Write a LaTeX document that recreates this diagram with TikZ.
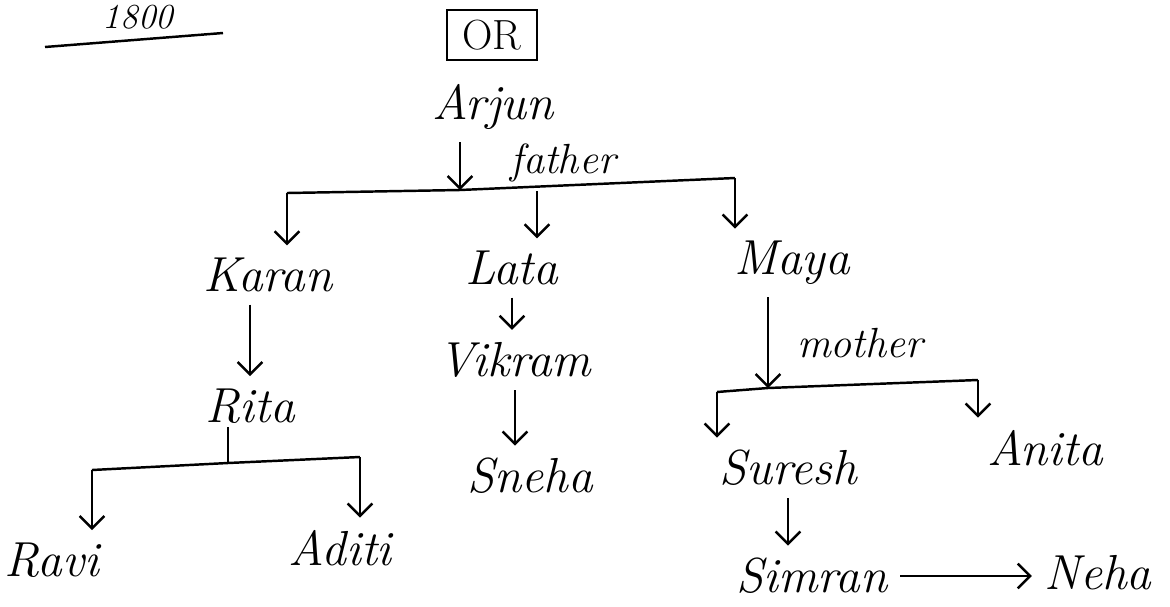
\documentclass[tikz,border=0pt]{standalone}
\usetikzlibrary{arrows.meta}

\tikzset{
  person/.style={font=\fontsize{28}{32}\selectfont\itshape, inner sep=2pt},
  relation/.style={font=\fontsize{24}{28}\selectfont\itshape, inner sep=2pt},
  link/.style={line width=1.4pt, -{Straight Barb[length=7pt,width=14pt]}, shorten <=5pt, shorten >=5pt},
  bar/.style={line width=1.4pt}
}

\begin{document}
\begin{tikzpicture}[x=0.02cm,y=-0.02cm]
\useasboundingbox (0,0) rectangle (1170,606);

% heading
\node[font=\fontsize{20}{24}\selectfont\itshape, inner sep=1pt] (year) at (138,17) {1800};
\coordinate (ulA) at (45,47);
\coordinate (ulB) at (223,33);
\draw[bar] (ulA) -- (ulB);
\node[draw, line width=1.4pt, minimum width=1.8cm, minimum height=1cm, font=\fontsize{24}{28}\selectfont] (or) at (492,35) {OR};

% first generation
\node[person] (arjun) at (493,107) {Arjun};
\node[relation] (father) at (563,163) {father};

% second generation
\node[person] (karan) at (268,275) {Karan};
\node[person] (lata) at (512,268) {Lata};
\node[person] (maya) at (792,263) {Maya};

\coordinate (fj) at (460,190);
\coordinate (fl) at (287,193);
\coordinate (fm) at (537,191);
\coordinate (fr) at (735,178);
\draw[bar] (fl) -- (fj) -- (fr);
\draw[link, shorten >=0pt] (arjun.south -| fj) -- (fj);
\draw[link, shorten <=0pt] (fl) -- (karan.north -| fl);
\draw[link, shorten <=0pt] (fm) -- (lata.north -| fm);
\draw[link, shorten <=0pt] (fr) -- (maya.north -| fr);

% Karan's line
\node[person] (rita) at (250,406) {Rita};
\node[person] (ravi) at (52,560) {Ravi};
\node[person] (aditi) at (340,548) {Aditi};
\draw[link] (karan.south -| rita) -- (rita.north);

\coordinate (rj) at (228,463);
\coordinate (rl) at (92,470);
\coordinate (rr) at (360,457);
\draw[bar] (rita.south -| rj) -- (rj);
\draw[bar] (rl) -- (rj) -- (rr);
\draw[link, shorten <=0pt] (rl) -- (ravi.north -| rl);
\draw[link, shorten <=0pt] (rr) -- (aditi.north -| rr);

% Lata's line
\node[person] (vikram) at (515,360) {Vikram};
\node[person] (sneha) at (530,476) {Sneha};
\draw[link] (lata.south) -- (lata.south |- vikram.north);
\draw[link] (vikram.south) -- (vikram.south |- sneha.north);

% Maya's line
\node[relation] (mother) at (860,343) {mother};
\node[person] (suresh) at (788,468) {Suresh};
\node[person] (anita) at (1045,448) {Anita};
\node[person] (simran) at (812,576) {Simran};
\node[person] (neha) at (1098,573) {Neha};

\coordinate (mj) at (768,388);
\coordinate (ml) at (717,392);
\coordinate (mr) at (978,380);
\draw[bar] (ml) -- (mj) -- (mr);
\draw[link, shorten >=0pt] (maya.south -| mj) -- (mj);
\draw[link, shorten <=0pt] (ml) -- (suresh.north -| ml);
\draw[link, shorten <=0pt] (mr) -- (anita.north -| mr);
\draw[link] (suresh.south) -- (suresh.south |- simran.north);
\draw[link] (simran.east) -- (simran.east -| neha.west);
\end{tikzpicture}
\end{document}
